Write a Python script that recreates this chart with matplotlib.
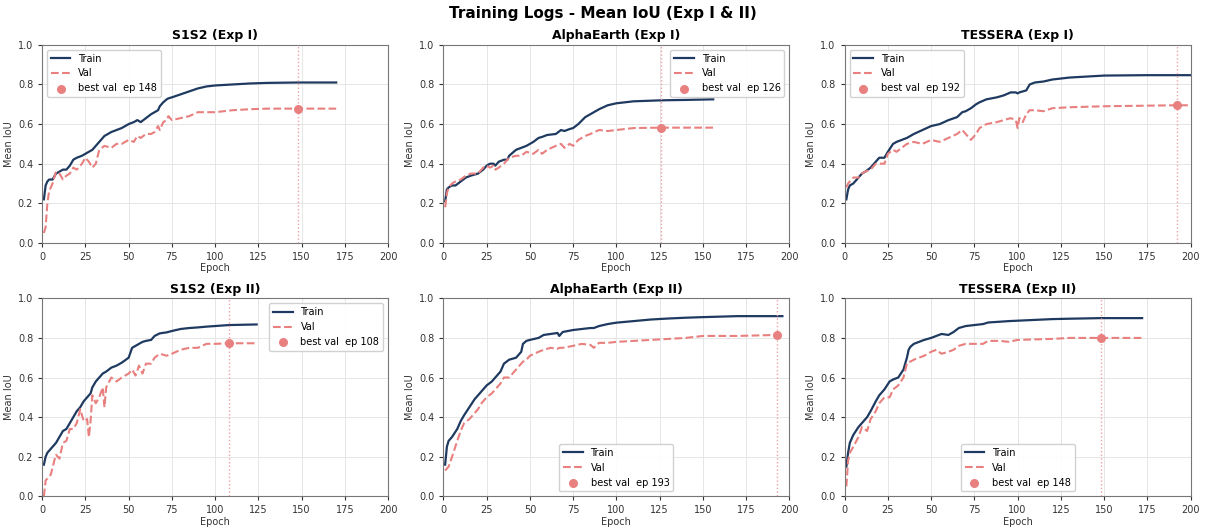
import numpy as np
import matplotlib
matplotlib.use("Agg")
import matplotlib.pyplot as plt

# ---- data (epoch, train, val) ----
s1s2_1_ep = [1, 2, 3, 4, 6, 8, 10, 12, 14, 16, 18, 20, 23, 25, 27, 29, 31, 33, 36, 40, 43, 46, 50, 53, 55, 57, 60, 63, 65, 67, 68, 70, 72, 73, 75, 80, 85, 90, 95, 100, 110, 120, 130, 148, 170]
s1s2_1_tr = [0.22, 0.29, 0.31, 0.32, 0.32, 0.35, 0.36, 0.37, 0.37, 0.39, 0.42, 0.43, 0.44, 0.45, 0.46, 0.47, 0.49, 0.51, 0.54, 0.56, 0.57, 0.58, 0.60, 0.61, 0.62, 0.61, 0.63, 0.65, 0.66, 0.67, 0.69, 0.71, 0.725, 0.73, 0.735, 0.75, 0.765, 0.78, 0.79, 0.795, 0.80, 0.805, 0.808, 0.81, 0.81]
s1s2_1_va = [0.05, 0.08, 0.20, 0.26, 0.30, 0.36, 0.35, 0.32, 0.34, 0.35, 0.38, 0.37, 0.40, 0.43, 0.41, 0.38, 0.40, 0.47, 0.49, 0.48, 0.50, 0.50, 0.52, 0.51, 0.54, 0.53, 0.55, 0.55, 0.56, 0.59, 0.57, 0.61, 0.62, 0.64, 0.62, 0.63, 0.64, 0.66, 0.66, 0.66, 0.67, 0.675, 0.678, 0.678, 0.678]

ae_1_ep = [1, 2, 3, 5, 7, 10, 13, 16, 20, 23, 25, 27, 29, 30, 32, 35, 37, 38, 42, 45, 48, 52, 55, 57, 60, 65, 68, 70, 73, 75, 78, 82, 85, 90, 95, 100, 110, 126, 140, 156]
ae_1_tr = [0.21, 0.27, 0.28, 0.29, 0.29, 0.31, 0.33, 0.34, 0.35, 0.37, 0.39, 0.40, 0.40, 0.39, 0.41, 0.42, 0.42, 0.44, 0.47, 0.48, 0.49, 0.51, 0.53, 0.535, 0.545, 0.55, 0.57, 0.565, 0.575, 0.58, 0.60, 0.635, 0.65, 0.675, 0.695, 0.705, 0.715, 0.72, 0.722, 0.725]
ae_1_va = [0.18, 0.25, 0.28, 0.30, 0.31, 0.32, 0.34, 0.35, 0.35, 0.38, 0.39, 0.38, 0.39, 0.37, 0.38, 0.40, 0.42, 0.43, 0.44, 0.44, 0.46, 0.45, 0.47, 0.45, 0.47, 0.49, 0.50, 0.48, 0.50, 0.49, 0.52, 0.54, 0.55, 0.57, 0.565, 0.57, 0.58, 0.582, 0.582, 0.582]

te_1_ep = [1, 2, 3, 5, 8, 10, 12, 15, 18, 20, 23, 25, 28, 30, 33, 36, 40, 45, 50, 55, 60, 65, 68, 70, 73, 76, 78, 82, 88, 92, 96, 99, 100, 101, 103, 105, 107, 110, 115, 120, 130, 150, 175, 192, 200]
te_1_tr = [0.22, 0.27, 0.29, 0.30, 0.33, 0.35, 0.36, 0.38, 0.41, 0.43, 0.43, 0.46, 0.50, 0.51, 0.52, 0.53, 0.55, 0.57, 0.59, 0.60, 0.62, 0.635, 0.66, 0.665, 0.68, 0.70, 0.71, 0.725, 0.735, 0.745, 0.76, 0.76, 0.755, 0.76, 0.765, 0.77, 0.80, 0.81, 0.815, 0.825, 0.835, 0.845, 0.847, 0.847, 0.847]
te_1_va = [0.28, 0.30, 0.31, 0.33, 0.33, 0.35, 0.36, 0.37, 0.40, 0.40, 0.40, 0.45, 0.47, 0.46, 0.48, 0.50, 0.51, 0.50, 0.52, 0.51, 0.53, 0.55, 0.57, 0.55, 0.52, 0.55, 0.58, 0.60, 0.61, 0.62, 0.63, 0.62, 0.58, 0.63, 0.61, 0.65, 0.67, 0.67, 0.665, 0.68, 0.685, 0.69, 0.693, 0.695, 0.695]

s1s2_2_ep = [1, 2, 3, 5, 7, 8, 10, 12, 14, 16, 18, 20, 22, 24, 26, 27, 28, 29, 31, 33, 35, 36, 37, 40, 43, 46, 50, 52, 54, 56, 58, 60, 63, 65, 68, 72, 75, 80, 85, 90, 95, 100, 108, 124]
s1s2_2_tr = [0.16, 0.20, 0.22, 0.24, 0.26, 0.27, 0.30, 0.33, 0.34, 0.37, 0.40, 0.43, 0.45, 0.48, 0.50, 0.51, 0.52, 0.55, 0.58, 0.60, 0.62, 0.625, 0.63, 0.65, 0.66, 0.675, 0.70, 0.75, 0.76, 0.77, 0.78, 0.785, 0.79, 0.81, 0.823, 0.828, 0.835, 0.845, 0.85, 0.853, 0.857, 0.86, 0.865, 0.868]
s1s2_2_va = [0.00, 0.08, 0.09, 0.11, 0.18, 0.21, 0.19, 0.27, 0.28, 0.34, 0.34, 0.37, 0.44, 0.38, 0.39, 0.30, 0.38, 0.51, 0.47, 0.50, 0.55, 0.45, 0.55, 0.60, 0.58, 0.60, 0.62, 0.64, 0.61, 0.66, 0.62, 0.67, 0.67, 0.70, 0.72, 0.71, 0.72, 0.74, 0.75, 0.75, 0.77, 0.77, 0.773, 0.773]

ae_2_ep = [1, 2, 3, 5, 8, 10, 12, 15, 18, 20, 22, 25, 28, 30, 33, 35, 38, 42, 45, 46, 48, 50, 55, 58, 62, 66, 67, 69, 75, 80, 85, 87, 90, 95, 100, 110, 120, 130, 140, 150, 170, 193, 196]
ae_2_tr = [0.16, 0.25, 0.28, 0.30, 0.34, 0.38, 0.41, 0.45, 0.49, 0.51, 0.53, 0.56, 0.58, 0.60, 0.63, 0.67, 0.69, 0.70, 0.73, 0.77, 0.785, 0.79, 0.80, 0.815, 0.82, 0.825, 0.81, 0.83, 0.84, 0.845, 0.85, 0.85, 0.86, 0.87, 0.877, 0.885, 0.893, 0.898, 0.902, 0.905, 0.91, 0.91, 0.91]
ae_2_va = [0.13, 0.14, 0.15, 0.20, 0.28, 0.33, 0.37, 0.39, 0.42, 0.44, 0.47, 0.50, 0.52, 0.54, 0.57, 0.60, 0.60, 0.64, 0.67, 0.68, 0.69, 0.71, 0.73, 0.74, 0.75, 0.745, 0.75, 0.75, 0.76, 0.77, 0.765, 0.75, 0.775, 0.775, 0.78, 0.785, 0.79, 0.795, 0.80, 0.81, 0.81, 0.815, 0.815]

te_2_ep = [1, 2, 3, 5, 8, 10, 13, 15, 18, 20, 23, 26, 28, 31, 34, 36, 37, 38, 40, 43, 46, 50, 53, 56, 60, 63, 66, 70, 75, 80, 83, 90, 95, 100, 120, 130, 148, 172]
te_2_tr = [0.15, 0.22, 0.27, 0.31, 0.35, 0.37, 0.40, 0.43, 0.48, 0.51, 0.54, 0.58, 0.59, 0.60, 0.64, 0.70, 0.74, 0.755, 0.77, 0.78, 0.79, 0.80, 0.81, 0.82, 0.815, 0.83, 0.85, 0.86, 0.865, 0.87, 0.878, 0.882, 0.885, 0.887, 0.895, 0.897, 0.90, 0.90]
te_2_va = [0.05, 0.18, 0.22, 0.25, 0.30, 0.35, 0.33, 0.39, 0.43, 0.47, 0.50, 0.50, 0.54, 0.56, 0.60, 0.67, 0.68, 0.68, 0.69, 0.70, 0.71, 0.73, 0.74, 0.72, 0.73, 0.74, 0.76, 0.77, 0.77, 0.77, 0.785, 0.785, 0.78, 0.79, 0.795, 0.80, 0.80, 0.80]

titles = ["S1S2 (Exp I)", "AlphaEarth (Exp I)", "TESSERA (Exp I)",
          "S1S2 (Exp II)", "AlphaEarth (Exp II)", "TESSERA (Exp II)"]
best_ep = [148, 126, 192, 108, 193, 148]
legend_loc = ["upper left", "upper right", "upper left",
              "upper right", "lower center", "lower center"]
runs = [(s1s2_1_ep, s1s2_1_tr, s1s2_1_va), (ae_1_ep, ae_1_tr, ae_1_va),
        (te_1_ep, te_1_tr, te_1_va), (s1s2_2_ep, s1s2_2_tr, s1s2_2_va),
        (ae_2_ep, ae_2_tr, ae_2_va), (te_2_ep, te_2_tr, te_2_va)]

train_c = "#1f3a60"
val_c = "#e8807f"

fig, axes = plt.subplots(2, 3, figsize=(12.05, 5.28), dpi=100)
fig.subplots_adjust(left=0.035, right=0.988, top=0.915, bottom=0.06,
                    wspace=0.16, hspace=0.28)

for ax, (ep, tr, va), title, b, loc in zip(axes.flat, runs, titles, best_ep, legend_loc):
    ax.plot(ep, tr, color=train_c, lw=1.6, label="Train")
    ax.plot(ep, va, color=val_c, lw=1.5, ls="--", label="Val")
    bv = va[ep.index(b)]
    ax.axvline(b, color="#f0a0a8", lw=1.0, ls=":")
    ax.scatter([b], [bv], s=30, color=val_c, zorder=5, label=f"best val  ep {b}")
    ax.set_xlim(0, 200)
    ax.set_ylim(0, 1.0)
    ax.set_xticks(np.arange(0, 201, 25))
    ax.set_yticks(np.arange(0, 1.01, 0.2))
    ax.grid(True, color="#e6e6e6", lw=0.7)
    ax.set_axisbelow(True)
    ax.tick_params(labelsize=7, length=3, colors="#333333")
    for sp in ax.spines.values():
        sp.set_color("#777777")
    ax.set_title(title, fontsize=9, fontweight="bold", pad=4)
    ax.set_xlabel("Epoch", fontsize=7, color="#333333", labelpad=1)
    ax.set_ylabel("Mean IoU", fontsize=7, color="#333333", labelpad=3)
    ax.legend(loc=loc, fontsize=7, frameon=True, framealpha=0.9)

fig.suptitle("Training Logs - Mean IoU (Exp I & II)", fontsize=11, fontweight="bold", y=0.988)
fig.savefig("out.png", dpi=100)
